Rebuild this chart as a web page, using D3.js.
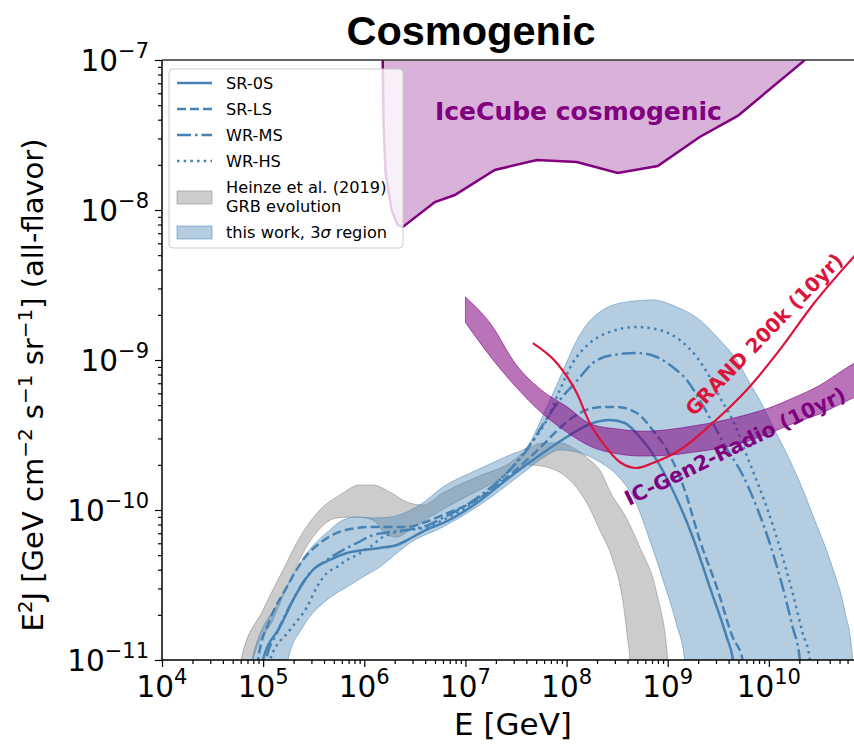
<!DOCTYPE html>
<html><head><meta charset="utf-8">
<script src="https://cdn.jsdelivr.net/npm/d3@7"></script>
<style>body{margin:0;background:#fff}</style>
</head><body><svg id="c" width="854" height="746"></svg>
<script>
// All values as [log10(E/GeV), log10(E^2 J / GeV cm^-2 s^-1 sr^-1)]
const icecubeCosmo = [[6.18,-6.9],[6.19,-7.4],[6.21,-7.75],[6.27,-8.0],[6.33,-8.1],[6.381,-8.113],[6.698,-7.947],[6.895,-7.9],[7.29,-7.733],[7.706,-7.667],[8.101,-7.68],[8.506,-7.753],[8.901,-7.707],[9.316,-7.513],[9.692,-7.373],[10.334,-7.013],[10.5,-6.9]];
const gen2E  = [7.0,7.25,7.5,7.75,8.0,8.25,8.5,8.75,9.0,9.25,9.5,9.75,10.0,10.25,10.5,10.75,11.0];
const gen2Hi = [-8.58,-8.76,-9.03,-9.2,-9.31,-9.43,-9.46,-9.475,-9.465,-9.44,-9.41,-9.37,-9.32,-9.25,-9.17,-9.06,-8.96];
const gen2Lo = [-8.75,-8.98,-9.18,-9.35,-9.48,-9.58,-9.625,-9.64,-9.635,-9.615,-9.59,-9.55,-9.49,-9.42,-9.36,-9.28,-9.2];
const grand = [[7.666,-8.887],[7.903,-9.02],[8.101,-9.22],[8.229,-9.42],[8.358,-9.553],[8.526,-9.68],[8.694,-9.72],[8.852,-9.687],[9.119,-9.6],[9.445,-9.42],[9.781,-9.2],[10.107,-8.933],[10.433,-8.633],[10.838,-8.313],[11.0,-8.19]];
const heinzeUpper = [[4.74,-11.3],[4.781,-11.0],[4.998,-10.667],[5.196,-10.4],[5.364,-10.18],[5.561,-10.0],[5.759,-9.9],[5.957,-9.833],[6.085,-9.833],[6.253,-9.88],[6.421,-9.947],[6.579,-9.967],[6.777,-9.887],[7.113,-9.78],[7.439,-9.687],[7.607,-9.6],[7.765,-9.553],[7.933,-9.553],[8.101,-9.6],[8.229,-9.667],[8.328,-9.733],[8.447,-9.9],[8.575,-10.033],[8.723,-10.247],[8.891,-10.553],[9.0,-11.0],[9.02,-11.3]];
const heinzeLower = [[4.86,-11.3],[4.899,-11.0],[5.097,-10.733],[5.294,-10.42],[5.492,-10.18],[5.729,-10.053],[5.927,-10.047],[6.085,-10.067],[6.223,-10.167],[6.322,-10.18],[6.451,-10.133],[6.648,-10.047],[6.945,-9.933],[7.271,-9.82],[7.538,-9.713],[7.636,-9.7],[7.834,-9.72],[8.032,-9.8],[8.2,-9.953],[8.328,-10.133],[8.457,-10.333],[8.555,-10.6],[8.605,-10.867],[8.625,-11.0],[8.63,-11.3]];
const bandUpper = [[4.85,-11.3],[4.889,-11.0],[5.166,-10.6],[5.433,-10.287],[5.66,-10.133],[5.789,-10.067],[5.927,-10.047],[6.085,-10.053],[6.253,-10.047],[6.421,-10.013],[6.549,-9.967],[6.777,-9.847],[7.113,-9.733],[7.439,-9.633],[7.607,-9.58],[7.706,-9.46],[7.804,-9.313],[7.903,-9.167],[8.002,-9.013],[8.13,-8.833],[8.328,-8.68],[8.595,-8.613],[8.852,-8.6],[9.089,-8.647],[9.316,-8.733],[9.514,-8.867],[9.682,-9.0],[9.81,-9.153],[9.909,-9.267],[10.057,-9.467],[10.206,-9.667],[10.304,-9.813],[10.453,-10.067],[10.621,-10.367],[10.749,-10.667],[10.828,-10.987],[10.86,-11.3]];
const bandLower = [[5.2,-11.3],[5.245,-11.0],[5.393,-10.78],[5.63,-10.6],[5.828,-10.513],[5.986,-10.447],[6.154,-10.38],[6.322,-10.287],[6.451,-10.22],[6.777,-10.113],[7.113,-9.98],[7.439,-9.82],[7.607,-9.733],[7.765,-9.653],[7.933,-9.6],[8.101,-9.613],[8.328,-9.68],[8.526,-9.787],[8.674,-9.933],[8.822,-10.2],[8.97,-10.5],[9.089,-10.767],[9.168,-11.0],[9.2,-11.3]];
const sr0s = [[4.95,-11.3],[4.998,-11.0],[5.166,-10.78],[5.334,-10.553],[5.492,-10.4],[5.66,-10.333],[5.828,-10.287],[5.986,-10.267],[6.154,-10.253],[6.322,-10.233],[6.48,-10.18],[6.648,-10.12],[6.777,-10.087],[7.113,-9.953],[7.439,-9.78],[7.765,-9.62],[8.002,-9.513],[8.259,-9.42],[8.427,-9.4],[8.575,-9.42],[8.723,-9.513],[8.891,-9.667],[9.049,-9.867],[9.247,-10.18],[9.415,-10.513],[9.583,-10.847],[9.642,-10.987],[9.68,-11.2]];
const srls = [[4.9,-11.3],[4.949,-11.0],[5.067,-10.733],[5.235,-10.513],[5.393,-10.333],[5.561,-10.22],[5.729,-10.153],[5.927,-10.12],[6.085,-10.113],[6.253,-10.113],[6.421,-10.113],[6.579,-10.087],[6.777,-10.033],[7.113,-9.933],[7.439,-9.767],[7.765,-9.567],[7.933,-9.453],[8.13,-9.353],[8.358,-9.313],[8.496,-9.313],[8.694,-9.353],[8.852,-9.467],[9.02,-9.633],[9.168,-9.867],[9.316,-10.2],[9.484,-10.513],[9.642,-10.847],[9.741,-11.0],[9.78,-11.2]];
const wrms = [[4.98,-11.3],[5.028,-11.0],[5.136,-10.82],[5.294,-10.6],[5.462,-10.42],[5.63,-10.333],[5.789,-10.267],[5.927,-10.22],[6.085,-10.167],[6.253,-10.147],[6.421,-10.133],[6.579,-10.113],[6.777,-10.053],[7.113,-9.92],[7.439,-9.733],[7.607,-9.6],[7.765,-9.433],[7.933,-9.267],[8.101,-9.14],[8.259,-9.02],[8.457,-8.967],[8.694,-8.953],[8.891,-8.98],[9.049,-9.047],[9.188,-9.133],[9.316,-9.267],[9.445,-9.42],[9.563,-9.567],[9.741,-9.767],[9.88,-9.98],[10.008,-10.22],[10.136,-10.513],[10.235,-10.78],[10.304,-10.987],[10.33,-11.2]];
const wrhs = [[5.02,-11.3],[5.067,-11.0],[5.265,-10.8],[5.433,-10.647],[5.532,-10.513],[5.63,-10.42],[5.729,-10.38],[5.828,-10.333],[5.927,-10.3],[6.055,-10.247],[6.184,-10.18],[6.322,-10.147],[6.451,-10.133],[6.579,-10.12],[6.777,-10.067],[7.113,-9.933],[7.439,-9.733],[7.636,-9.567],[7.804,-9.4],[7.933,-9.2],[8.061,-9.02],[8.229,-8.887],[8.427,-8.813],[8.694,-8.78],[8.921,-8.8],[9.119,-8.867],[9.287,-8.98],[9.415,-9.113],[9.514,-9.247],[9.642,-9.4],[9.81,-9.687],[9.978,-9.98],[10.107,-10.247],[10.235,-10.553],[10.334,-10.82],[10.403,-10.987],[10.43,-11.2]];
const xTickExp = [4,5,6,7,8,9,10];
const yTickExp = [-11,-10,-9,-8,-7];
const legendLines = ["SR-0S","SR-LS","WR-MS","WR-HS"];

const svg = d3.select("#c");
const L=162, R=870, T=60, B=660;
const x = d3.scaleLog().domain([1e4,1e11]).range([L,R]);
const y = d3.scaleLog().domain([1e-11,1e-7]).range([B,T]);
const px = d => x(Math.pow(10,d[0])), py = d => y(Math.pow(10,d[1]));
const smooth = d3.line().x(px).y(py).curve(d3.curveMonotoneX);
const straight = d3.line().x(px).y(py);
const BLUE = "#4682b4", PURPLE = "#800080", CRIMSON = "#dc143c";

svg.append("defs").append("clipPath").attr("id","clip")
  .append("rect").attr("x",L).attr("y",T).attr("width",R-L).attr("height",B-T);
const g = svg.append("g").attr("clip-path","url(#clip)");

function bandPath(up, lo, gen){
  const a = gen(up), b = gen(lo.slice().reverse());
  return a + "L" + b.slice(1) + "Z";
}

// IceCube cosmogenic limit
const iceFill = icecubeCosmo.concat([[10.5,-6.0],[6.18,-6.0]]);
g.append("path").attr("d", straight(iceFill)+"Z").attr("fill",PURPLE).attr("fill-opacity",0.3);
g.append("path").attr("d", straight(icecubeCosmo)).attr("fill","none").attr("stroke",PURPLE).attr("stroke-width",2.5);

// Heinze GRB band
g.append("path").attr("d", bandPath(heinzeUpper, heinzeLower, smooth))
  .attr("fill","#808080").attr("fill-opacity",0.4).attr("stroke","#808080").attr("stroke-opacity",0.5).attr("stroke-width",1);
// this work band
g.append("path").attr("d", bandPath(bandUpper, bandLower, smooth))
  .attr("fill",BLUE).attr("fill-opacity",0.4).attr("stroke",BLUE).attr("stroke-opacity",0.5).attr("stroke-width",1);

const styles = [
  {data:sr0s, dash:null},
  {data:srls, dash:"9,4"},
  {data:wrms, dash:"14,4,2.5,4"},
  {data:wrhs, dash:"2.5,4.2"}
];
styles.forEach(s=>{
  g.append("path").attr("d", smooth(s.data)).attr("fill","none").attr("stroke",BLUE)
   .attr("stroke-width",2.5).attr("stroke-dasharray",s.dash);
});

// IC-Gen2 radio band
const gen2Up = gen2E.map((e,i)=>[e,gen2Hi[i]]);
const gen2Dn = gen2E.map((e,i)=>[e,gen2Lo[i]]);
g.append("path").attr("d", bandPath(gen2Up, gen2Dn, smooth))
  .attr("fill",PURPLE).attr("fill-opacity",0.55).attr("stroke",PURPLE).attr("stroke-opacity",0.6).attr("stroke-width",1);

// GRAND
g.append("path").attr("d", smooth(grand)).attr("fill","none").attr("stroke",CRIMSON).attr("stroke-width",2.2);

// Axes
const font = "DejaVu Sans, sans-serif";
const xMinor = [], yMinor = [];
for (let e=4;e<11;e++) for (let k=2;k<10;k++) xMinor.push(k*Math.pow(10,e));
for (let e=-11;e<-7;e++) for (let k=2;k<10;k++) yMinor.push(k*Math.pow(10,e));
const xa = svg.append("g").attr("transform",`translate(0,${B})`);
xa.call(d3.axisBottom(x).tickValues(xTickExp.map(e=>Math.pow(10,e))).tickSize(7).tickFormat(()=>""));
xa.append("g").call(d3.axisBottom(x).tickValues(xMinor).tickSize(4).tickFormat(()=>""));
const ya = svg.append("g").attr("transform",`translate(${L},0)`);
ya.call(d3.axisLeft(y).tickValues(yTickExp.map(e=>Math.pow(10,e))).tickSize(7).tickFormat(()=>""));
ya.append("g").call(d3.axisLeft(y).tickValues(yMinor).tickSize(4).tickFormat(()=>""));
svg.selectAll(".domain").remove();
svg.selectAll(".tick line").attr("stroke","#000").attr("stroke-width",1.2);
// spines
svg.append("line").attr("x1",L).attr("x2",L).attr("y1",T).attr("y2",B).attr("stroke","#000").attr("stroke-width",1.5);
svg.append("line").attr("x1",L).attr("x2",R).attr("y1",B).attr("y2",B).attr("stroke","#000").attr("stroke-width",1.5);
svg.append("line").attr("x1",L).attr("x2",R).attr("y1",T).attr("y2",T).attr("stroke","#333").attr("stroke-width",1.5);

// tick labels
xTickExp.forEach(e=>{
  const t = svg.append("text").attr("x",x(Math.pow(10,e))).attr("y",697)
    .attr("text-anchor","middle").attr("font-family",font).attr("font-size",29.5).attr("fill","#000");
  t.append("tspan").text("10");
  t.append("tspan").attr("dy",-13).attr("font-size",21).text(String(e));
});
yTickExp.forEach(e=>{
  const t = svg.append("text").attr("x",149).attr("y",y(Math.pow(10,e))+10.5)
    .attr("text-anchor","end").attr("font-family",font).attr("font-size",29.5).attr("fill","#000");
  t.append("tspan").text("10");
  t.append("tspan").attr("dy",-13).attr("font-size",21).text("\u2212"+Math.abs(e));
});

// axis labels
svg.append("text").attr("x",513).attr("y",735).attr("text-anchor","middle")
  .attr("font-family",font).attr("font-size",31).text("E [GeV]");
const yl = svg.append("text").attr("transform",`translate(43,385) rotate(-90)`)
  .attr("text-anchor","middle").attr("font-family",font).attr("font-size",29);
yl.append("tspan").text("E");
yl.append("tspan").attr("dy",-11).attr("font-size",20).text("2");
yl.append("tspan").attr("dy",11).text("J [GeV cm");
yl.append("tspan").attr("dy",-11).attr("font-size",20).text("\u22122");
yl.append("tspan").attr("dy",11).text(" s");
yl.append("tspan").attr("dy",-11).attr("font-size",20).text("\u22121");
yl.append("tspan").attr("dy",11).text(" sr");
yl.append("tspan").attr("dy",-11).attr("font-size",20).text("\u22121");
yl.append("tspan").attr("dy",11).text("] (all-flavor)");

// title
svg.append("text").attr("x",471).attr("y",45).attr("text-anchor","middle")
  .attr("font-family","Liberation Sans, Arial, sans-serif").attr("font-weight","bold").attr("font-size",41.5).text("Cosmogenic");

// annotations
svg.append("text").attr("transform","translate(694,417) rotate(-46)").attr("font-family",font)
  .attr("font-weight","bold").attr("font-size",19.8).attr("fill",CRIMSON).text("GRAND 200k (10yr)");
svg.append("text").attr("transform","translate(629,506) rotate(-26)").attr("font-family",font)
  .attr("font-weight","bold").attr("font-size",20.5).attr("fill",PURPLE).text("IC-Gen2-Radio (10yr)");
svg.append("text").attr("x",435).attr("y",120).attr("font-family",font).attr("font-weight","bold")
  .attr("font-size",25).attr("fill",PURPLE).text("IceCube cosmogenic");

// legend
const lg = svg.append("g");
lg.append("rect").attr("x",169).attr("y",69).attr("width",234).attr("height",179).attr("rx",4)
  .attr("fill","#fff").attr("fill-opacity",0.8).attr("stroke","#ccc").attr("stroke-width",1);
const ly = [83,109,135,161];
legendLines.forEach((name,i)=>{
  lg.append("line").attr("x1",177).attr("x2",212).attr("y1",ly[i]).attr("y2",ly[i])
    .attr("stroke",BLUE).attr("stroke-width",2.5).attr("stroke-dasharray",styles[i].dash);
  lg.append("text").attr("x",226).attr("y",ly[i]+6).attr("font-family",font).attr("font-size",16.2).text(name);
});
lg.append("rect").attr("x",177).attr("y",191).attr("width",35).attr("height",13)
  .attr("fill","#808080").attr("fill-opacity",0.4).attr("stroke","#808080").attr("stroke-opacity",0.5);
lg.append("text").attr("x",226).attr("y",193).attr("font-family",font).attr("font-size",16.2).text("Heinze et al. (2019)");
lg.append("text").attr("x",226).attr("y",212).attr("font-family",font).attr("font-size",16.2).text("GRB evolution");
lg.append("rect").attr("x",177).attr("y",226).attr("width",35).attr("height",13)
  .attr("fill",BLUE).attr("fill-opacity",0.4).attr("stroke",BLUE).attr("stroke-opacity",0.5);
const tw = lg.append("text").attr("x",226).attr("y",238).attr("font-family",font).attr("font-size",16.2);
tw.append("tspan").text("this work, 3");
tw.append("tspan").attr("font-style","italic").text("\u03c3");
tw.append("tspan").text(" region");
</script></body></html>
